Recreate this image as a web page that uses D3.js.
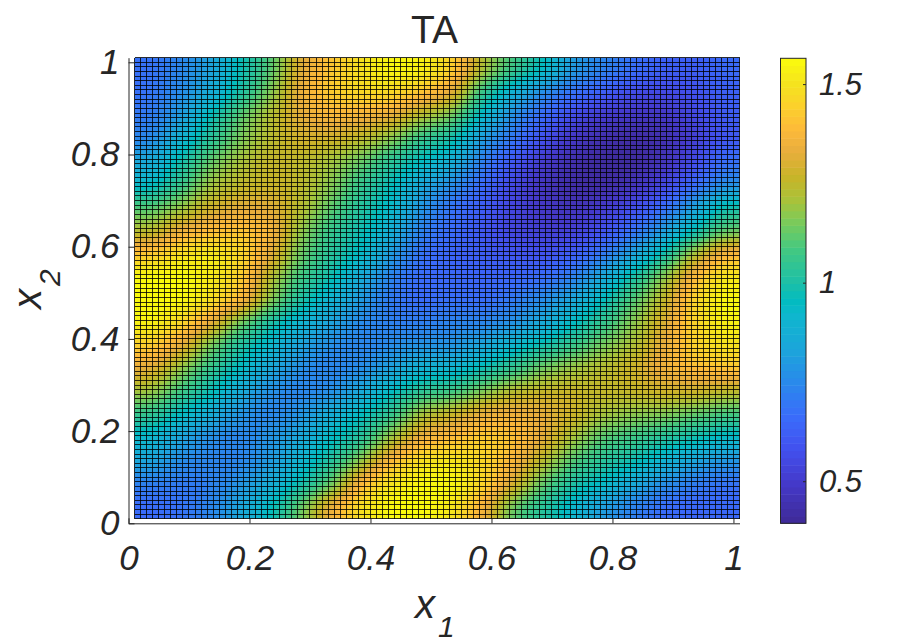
<!DOCTYPE html>
<html>
<head>
<meta charset="utf-8">
<script src="https://cdn.jsdelivr.net/npm/d3@7"></script>
<style>
  html, body { margin: 0; background: #fff; }
  text { font-family: "Liberation Sans", Arial, sans-serif; fill: #262626; }
  .tick text, .lab { font-style: italic; }
</style>
</head>
<body>
<svg id="chart" width="911" height="644"></svg>
<script>
// values, one block every 0.05 (top row first)
var taRows = [
  [.68,.74,.82,.97,1.10,1.32,1.42,1.50,1.56,1.55,1.46,1.22,1.08,.97,.80,.74,.68,.63,.62,.66],
  [.68,.76,.85,1.00,1.16,1.35,1.44,1.48,1.48,1.42,1.33,1.05,.88,.75,.68,.62,.56,.55,.58,.63],
  [.70,.80,.97,1.12,1.23,1.33,1.38,1.36,1.33,1.22,1.15,.93,.76,.66,.56,.50,.48,.48,.55,.62],
  [.74,.88,1.03,1.15,1.24,1.29,1.28,1.25,1.17,1.05,1.00,.80,.70,.58,.48,.44,.42,.44,.52,.60],
  [.84,.98,1.13,1.21,1.26,1.25,1.20,1.13,1.03,.95,.88,.72,.60,.50,.43,.41,.41,.46,.56,.68],
  [.92,1.05,1.20,1.25,1.27,1.25,1.17,1.05,.97,.84,.76,.66,.55,.47,.42,.42,.46,.54,.65,.76],
  [1.10,1.18,1.28,1.32,1.32,1.24,1.12,1.02,.93,.78,.68,.62,.54,.49,.46,.50,.57,.66,.82,1.00],
  [1.22,1.34,1.40,1.42,1.38,1.18,1.05,.98,.88,.72,.66,.60,.54,.52,.52,.58,.68,.80,.97,1.12],
  [1.42,1.50,1.53,1.48,1.33,1.13,1.03,.95,.80,.68,.64,.62,.60,.58,.62,.70,.82,.98,1.22,1.38],
  [1.58,1.58,1.53,1.45,1.22,1.07,.98,.86,.73,.66,.65,.64,.64,.66,.72,.85,1.00,1.17,1.38,1.52],
  [1.58,1.57,1.50,1.40,1.17,1.00,.90,.80,.70,.66,.68,.66,.70,.76,.84,.96,1.10,1.25,1.46,1.58],
  [1.55,1.47,1.33,1.13,.99,.90,.82,.75,.72,.72,.74,.74,.77,.85,.95,1.05,1.17,1.30,1.46,1.54],
  [1.44,1.33,1.14,1.00,.92,.82,.76,.74,.76,.78,.78,.84,.92,.98,1.06,1.15,1.21,1.33,1.45,1.50],
  [1.33,1.18,1.05,.95,.84,.76,.74,.76,.82,.90,.90,.98,1.05,1.15,1.20,1.24,1.28,1.36,1.40,1.42],
  [1.20,1.08,.98,.85,.76,.74,.76,.85,.96,1.05,1.08,1.16,1.25,1.27,1.27,1.26,1.26,1.28,1.28,1.24],
  [1.05,.95,.86,.78,.74,.78,.88,.96,1.05,1.22,1.27,1.35,1.36,1.33,1.28,1.20,1.17,1.16,1.12,1.08],
  [.92,.82,.76,.74,.78,.85,.95,1.02,1.20,1.36,1.40,1.44,1.42,1.33,1.20,1.10,1.07,1.02,.98,.93],
  [.84,.76,.73,.74,.80,.90,1.02,1.18,1.40,1.50,1.52,1.47,1.38,1.23,1.10,1.03,.98,.90,.83,.78],
  [.72,.70,.72,.78,.86,.98,1.12,1.40,1.52,1.58,1.58,1.48,1.30,1.12,1.00,.94,.85,.76,.71,.68],
  [.66,.68,.74,.84,.96,1.14,1.36,1.50,1.58,1.60,1.52,1.36,1.12,1.02,.92,.80,.72,.66,.64,.65]
];
var xTicks = [0, 0.2, 0.4, 0.6, 0.8, 1];
var yTicks = [0, 0.2, 0.4, 0.6, 0.8, 1];
var cbTicks = [0.5, 1, 1.5];
// colours, bottom to top
var cmapStops = [0, .086, .158, .23, .30, .373, .445, .48, .516, .588, .645, .695, .745, .80, .846, .896, .946, 1];
var cmapColors = ["#3e2a96","#4439c9","#4250ee","#3a6cfb","#2a88ec","#1ca5db","#0fb6ce","#02bcc0","#1cbfa8",
                  "#42c882","#78cb5c","#a9c23a","#c8b428","#e8ae3d","#fdb93a","#fcd02c","#f5e31e","#fbfb0c"];
var cmin = 0.394, cmax = 1.565;

var svg = d3.select("#chart");

var x = d3.scaleLinear().domain([0, 1.01]).range([128.5, 739.5]);
var y = d3.scaleLinear().domain([0, 1.01]).range([523.3, 57.7]);
var cbY = d3.scaleLinear().domain([cmin, cmax]).range([523.3, 58.3]);

var parula = d3.scaleLinear().domain(cmapStops).range(cmapColors).clamp(true);
var level = d3.scaleLinear().domain([cmin, cmax]).range([0, 1]).clamp(true);

// the block values are drawn as grey levels, blurred, then mapped through the
// colormap by the filter, so that the smoothing stays on the colormap path
var lut = d3.range(256).map(function(i) { return d3.rgb(parula(i / 255)); });
var defs = svg.append("defs");
var filter = defs.append("filter").attr("id", "smooth")
    .attr("filterUnits", "userSpaceOnUse")
    .attr("x", 80).attr("y", 10).attr("width", 710).attr("height", 560)
    .attr("color-interpolation-filters", "sRGB");
filter.append("feGaussianBlur").attr("stdDeviation", "12 9");
var transfer = filter.append("feComponentTransfer");
["R", "G", "B"].forEach(function(ch) {
  var key = ch.toLowerCase();
  transfer.append("feFunc" + ch).attr("type", "table")
      .attr("tableValues", lut.map(function(c) { return (c[key] / 255).toFixed(3); }).join(" "));
});
transfer.append("feFuncA").attr("type", "linear").attr("slope", 1000);

defs.append("clipPath").attr("id", "surf")
  .append("rect")
    .attr("x", x(0.01)).attr("y", y(1.01))
    .attr("width", x(1.01) - x(0.01)).attr("height", y(0.01) - y(1.01));

var plot = svg.append("g").attr("clip-path", "url(#surf)");
var blocks = plot.append("g").attr("filter", "url(#smooth)");

taRows.forEach(function(row, j) {
  blocks.selectAll("rect.r" + j)
    .data(row)
    .enter().append("rect")
      .attr("class", "r" + j)
      .attr("x", function(d, i) { return x(0.01 + i * 0.05); })
      .attr("y", y(1.01 - j * 0.05))
      .attr("width", x(0.05) - x(0) + 0.5)
      .attr("height", y(0) - y(0.05) + 0.5)
      .attr("fill", function(d) { var g = Math.round(level(d) * 255); return d3.rgb(g, g, g); });
});

// surface mesh, 100 x 100 cells
var mesh = d3.range(101).map(function(i) { return 0.01 + i * 0.01; });
var meshG = svg.append("g").attr("stroke", "#000").attr("stroke-width", 1)
    .attr("stroke-opacity", 0.8).attr("shape-rendering", "crispEdges");
meshG.selectAll("line.v").data(mesh).enter().append("line")
    .attr("class", "v")
    .attr("x1", function(d) { return x(d); }).attr("x2", function(d) { return x(d); })
    .attr("y1", y(0.01)).attr("y2", y(1.01));
meshG.selectAll("line.h").data(mesh).enter().append("line")
    .attr("class", "h")
    .attr("y1", function(d) { return y(d); }).attr("y2", function(d) { return y(d); })
    .attr("x1", x(0.01)).attr("x2", x(1.01));

// axes
var xAxis = d3.axisBottom(x).tickValues(xTicks).tickFormat(d3.format("~g"))
    .tickSizeInner(-5).tickSizeOuter(0).tickPadding(22);
var yAxis = d3.axisLeft(y).tickValues(yTicks).tickFormat(d3.format("~g"))
    .tickSizeInner(-6).tickSizeOuter(0).tickPadding(9);

var gx = svg.append("g").attr("transform", "translate(0,523.3)").call(xAxis);
var gy = svg.append("g").attr("transform", "translate(128.5,0)").call(yAxis);
[gx, gy].forEach(function(g) {
  g.attr("font-size", null).attr("font-family", null);
  g.selectAll("path, line").attr("stroke", "#262626").attr("stroke-width", 1);
  g.selectAll("text").style("font-size", "35px");
});

// colorbar
var nLevels = 64;
svg.append("g").selectAll("rect")
    .data(d3.range(nLevels))
    .enter().append("rect")
      .attr("x", 780.5)
      .attr("width", 25.5)
      .attr("y", function(d) { return cbY(cmin + (d + 1) / nLevels * (cmax - cmin)); })
      .attr("height", (cbY(cmin) - cbY(cmax)) / nLevels + 0.5)
      .attr("fill", function(d) { return parula((d + 0.5) / nLevels); });
svg.append("rect")
    .attr("x", 780.5).attr("y", cbY(cmax))
    .attr("width", 25.5).attr("height", cbY(cmin) - cbY(cmax))
    .attr("fill", "none").attr("stroke", "#262626");
var cbAxis = d3.axisRight(cbY).tickValues(cbTicks).tickFormat(d3.format("~g"))
    .tickSizeInner(-3).tickSizeOuter(0).tickPadding(13);
var gc = svg.append("g").attr("transform", "translate(806,0)").call(cbAxis);
gc.select("path").remove();
gc.attr("font-size", null).attr("font-family", null);
gc.selectAll("line").attr("stroke", "#262626");
gc.selectAll("text").style("font-size", "31px");

// title and labels
svg.append("text").attr("x", 434.5).attr("y", 43).attr("text-anchor", "middle")
    .style("font-size", "39px").text("TA");

var xl = svg.append("text").attr("class", "lab").attr("x", 415).attr("y", 618).style("font-size", "40px");
xl.append("tspan").text("x");
xl.append("tspan").attr("dy", 19).attr("dx", 3).style("font-size", "30px").text("1");

var yl = svg.append("text").attr("class", "lab")
    .attr("transform", "translate(41,309) rotate(-90)").style("font-size", "40px");
yl.append("tspan").text("x");
yl.append("tspan").attr("dy", 19).attr("dx", 3).style("font-size", "30px").text("2");
</script>
</body>
</html>
